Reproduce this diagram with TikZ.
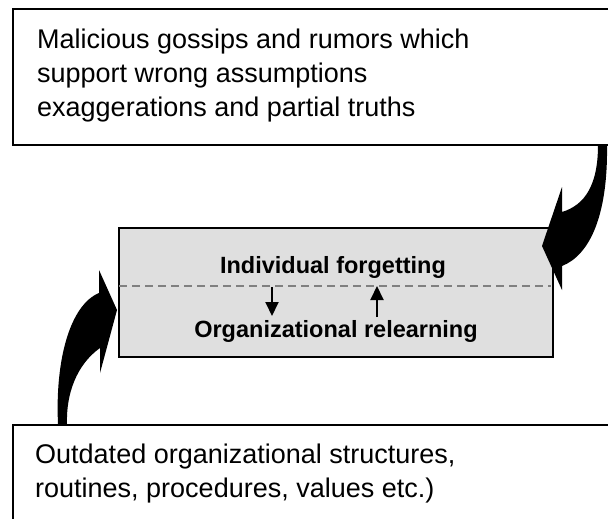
\documentclass[tikz,border=0pt]{standalone}
\usepackage{fontspec}
\setmainfont{Liberation Sans}
\usetikzlibrary{arrows.meta}

\begin{document}
\begin{tikzpicture}[x=1pt,y=-1pt,
	outerbox/.style={draw, line width=1.6pt, rectangle, anchor=north west, inner sep=0pt},
	plaintext/.style={anchor=base west, align=left, inner sep=0pt, font=\fontsize{27}{33.5}\selectfont},
	boldtext/.style={anchor=base, inner sep=0pt, font=\bfseries\fontsize{23.5}{28}\selectfont},
	bigarrow/.style={fill=black},
	smallarrow/.style={line width=2pt, -{Triangle[length=14pt,width=13pt]}}]

		\useasboundingbox (0,0) rectangle (608,519);
		\clip (0,0) rectangle (608,519);

		\draw (12,8) node [outerbox, minimum width=620pt, minimum height=136pt] (gossipbox) {};
		\draw (37,116) node [plaintext] (gossip) {Malicious gossips and rumors which\\support wrong assumptions\\exaggerations and partial truths};

		\draw (12,424) node [outerbox, minimum width=620pt, minimum height=120pt] (structbox) {};
		\draw (35,497) node [plaintext] (struct) {Outdated organizational structures,\\routines, procedures, values etc.)};

		\draw (118,227) node [outerbox, fill=gray!25, minimum width=434pt, minimum height=129pt] (memory) {};
		\draw[gray, line width=1.6pt, dash pattern=on 8pt off 5pt] (119,286) -- (551,286);
		\draw (333,273) node [boldtext] (forget) {Individual forgetting};
		\draw (336,337) node [boldtext] (relearn) {Organizational relearning};

		\draw[smallarrow] (272,287) -- (272,316);
		\draw[smallarrow] (377,317) -- (377,286);

		% curved arrows
		\fill[bigarrow] (58,424) .. controls (55,360) and (70,305) .. (99,293) -- (99,270) -- (117,310) -- (100,373) -- (100,348) .. controls (76,365) and (66,395) .. (67,424) -- cycle;
		\fill[bigarrow] (598,145) .. controls (598,185) and (585,205) .. (562,212) -- (562,187) -- (542,246) -- (562,290) -- (562,266) .. controls (590,255) and (608,215) .. (607,145) -- cycle;
	\end{tikzpicture}
\end{document}
